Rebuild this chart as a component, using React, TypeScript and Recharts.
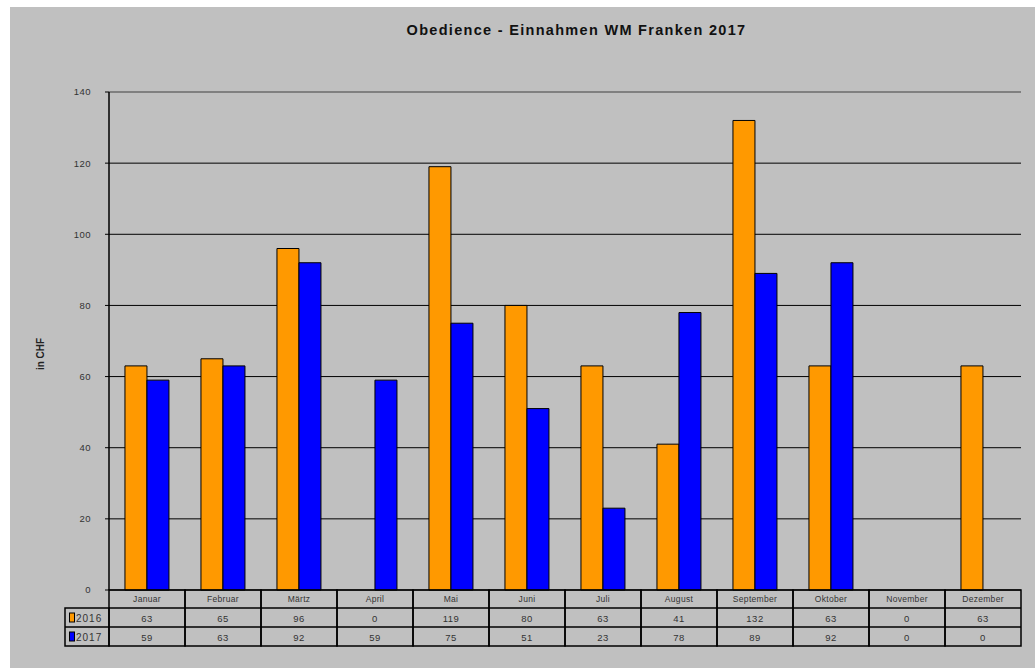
import React from "react";
import {
  BarChart,
  Bar,
  XAxis,
  YAxis,
  CartesianGrid,
  ReferenceLine,
} from "recharts";

const months = [
  "Januar",
  "Februar",
  "Märtz",
  "April",
  "Mai",
  "Juni",
  "Juli",
  "August",
  "September",
  "Oktober",
  "November",
  "Dezember",
];
const values2016 = [63, 65, 96, 0, 119, 80, 63, 41, 132, 63, 0, 63];
const values2017 = [59, 63, 92, 59, 75, 51, 23, 78, 89, 92, 0, 0];
const yTicks = [0, 20, 40, 60, 80, 100, 120, 140];
const seriesNames = ["2016", "2017"];

const data = months.map((m, i) => ({
  month: m,
  y2016: values2016[i],
  y2017: values2017[i],
}));

const FONT = "'Liberation Sans', Arial, sans-serif";
const CELL_W = 76;
const ROW_H = [18, 19, 19];
const ORANGE = "#ff9900";
const BLUE = "#0000ff";

function TableTick(props: any) {
  const { x, y, payload } = props;
  const i = payload.index;
  const left = x - CELL_W / 2;
  const r1 = y;
  const r2 = y + ROW_H[0];
  const r3 = r2 + ROW_H[1];
  const r4 = r3 + ROW_H[2];
  const txt = { fontFamily: FONT, fill: "#333", textAnchor: "middle" as const };
  return (
    <g>
      <rect x={left} y={r1} width={CELL_W} height={r4 - r1} fill="none" stroke="#000" strokeWidth={1.5} />
      <line x1={left} x2={left + CELL_W} y1={r2} y2={r2} stroke="#000" strokeWidth={1.5} />
      <line x1={left} x2={left + CELL_W} y1={r3} y2={r3} stroke="#000" strokeWidth={1.5} />
      <text x={x} y={r1 + 12} fontSize={8.5} letterSpacing={0.3} {...txt}>
        {months[i]}
      </text>
      <text x={x} y={r2 + 13.5} fontSize={9.5} letterSpacing={0.5} {...txt}>
        {values2016[i]}
      </text>
      <text x={x} y={r3 + 13.5} fontSize={9.5} letterSpacing={0.5} {...txt}>
        {values2017[i]}
      </text>
      {i === 0 && (
        <g>
          <rect x={65} y={r2} width={left - 65} height={r4 - r2} fill="none" stroke="#000" strokeWidth={1.5} />
          <line x1={65} x2={left} y1={r3} y2={r3} stroke="#000" strokeWidth={1.5} />
          <rect x={69.5} y={r2 + 5} width={5} height={9} fill={ORANGE} stroke="#000" strokeWidth={1} />
          <rect x={69.5} y={r3 + 5} width={5} height={9} fill={BLUE} stroke="#000" strokeWidth={1} />
          <text x={76} y={r2 + 13.5} fontSize={10} letterSpacing={1} fontFamily={FONT} fill="#333">
            {seriesNames[0]}
          </text>
          <text x={76} y={r3 + 13.5} fontSize={10} letterSpacing={1} fontFamily={FONT} fill="#333">
            {seriesNames[1]}
          </text>
        </g>
      )}
    </g>
  );
}

export default function App() {
  return (
    <div style={{ position: "absolute", left: 0, top: 0, width: 1035, height: 668, background: "#fff" }}>
      <div style={{ position: "absolute", left: 10, top: 7, width: 1025, height: 661, background: "#c0c0c0" }} />
      <div
        style={{
          position: "absolute",
          left: 0,
          width: 1153,
          top: 22,
          textAlign: "center",
          fontFamily: FONT,
          fontWeight: "bold",
          fontSize: 14.5,
          letterSpacing: 1.3,
          color: "#111",
        }}
      >
        Obedience - Einnahmen WM Franken 2017
      </div>
      <div
        style={{
          position: "absolute",
          left: 40,
          top: 354,
          transform: "translate(-50%, -50%) rotate(-90deg)",
          fontFamily: FONT,
          fontWeight: "bold",
          fontSize: 10,
          color: "#222",
          whiteSpace: "nowrap",
        }}
      >
        in CHF
      </div>
      <div style={{ position: "absolute", left: 0, top: 0 }}>
        <BarChart
          width={1035}
          height={668}
          data={data}
          margin={{ top: 92, right: 14, bottom: 22, left: 0 }}
          barCategoryGap="21%"
          barGap={0}
        >
          <CartesianGrid vertical={false} stroke="#000" strokeWidth={1} yAxisId="left" />
          <XAxis
            dataKey="month"
            interval={0}
            height={56}
            tickSize={0}
            tickMargin={0}
            axisLine={false}
            tickLine={false}
            tick={<TableTick />}
          />
          <YAxis
            yAxisId="left"
            width={109}
            domain={[0, 140]}
            ticks={yTicks}
            tickSize={4}
            tickMargin={14}
            stroke="#000"
            axisLine={{ stroke: "#000", strokeWidth: 1.5 }}
            tickLine={{ stroke: "#000", strokeWidth: 1 }}
            tick={{ fill: "#333", fontSize: 9.5, fontFamily: FONT, letterSpacing: 0.5 }}
          />
          <YAxis
            yAxisId="right"
            orientation="right"
            width={0}
            domain={[0, 140]}
            tick={false}
            tickLine={false}
            axisLine={{ stroke: "#808080", strokeWidth: 2 }}
          />
          <ReferenceLine yAxisId="left" y={140} stroke="#808080" strokeWidth={2} />
          <Bar yAxisId="left" dataKey="y2016" name="2016" fill={ORANGE} stroke="#000" strokeWidth={1} isAnimationActive={false} />
          <Bar yAxisId="left" dataKey="y2017" name="2017" fill={BLUE} stroke="#000" strokeWidth={1} isAnimationActive={false} />
        </BarChart>
      </div>
    </div>
  );
}
